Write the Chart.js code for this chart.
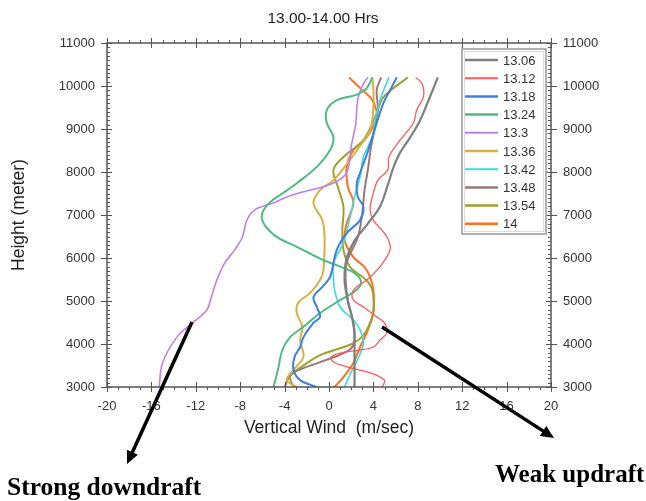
<!DOCTYPE html>
<html>
<head>
<meta charset="utf-8">
<script src="https://cdn.jsdelivr.net/npm/chart.js"></script>
<style>
  html, body { margin: 0; padding: 0; background: #fff; }
  #wrap { position: relative; width: 646px; height: 501px; }
  .note { position: absolute; font-family: "Liberation Serif", "DejaVu Serif", serif; font-weight: bold; font-size: 25.5px; line-height: 26px; color: #000; white-space: nowrap; }
</style>
</head>
<body>
<div id="wrap">
  <canvas id="chart" width="646" height="501"></canvas>
  <div class="note" style="left:7px; top:474px;">Strong downdraft</div>
  <div class="note" style="left:495px; top:461px; font-size:25px;">Weak updraft</div>
</div>
<script>
// legend labels (time of each profile)
const times = ['13.06', '13.12', '13.18', '13.24', '13.3', '13.36', '13.42', '13.48', '13.54', '14'];
const colors = ['#7f7f7f', '#ff5a5a', '#3b7fe6', '#4dbb80', '#bd80f0', '#d9b040', '#3cdcdc', '#9a7878', '#a0a030', '#ff7020'];
const widths = [2.2, 1.3, 2, 2, 1.6, 2, 1.6, 2, 2, 2];

// axis ticks
const xTicks = [-20, -16, -12, -8, -4, 0, 4, 8, 12, 16, 20];
const yTicks = [3000, 4000, 5000, 6000, 7000, 8000, 9000, 10000, 11000];

// height (m) and vertical wind (m/sec)
const h1306 = [3000, 3500, 4000, 4300, 4600, 5000, 5500, 6000, 6400, 6800, 7200, 7700, 8100, 8450, 8800, 9200, 9750, 10200];
const w1306 = [2.3, 2.3, 2.3, 2.3, 2.1, 1.7, 1.4, 1.6, 2.3, 3.5, 4.6, 5.3, 5.8, 6.4, 7.3, 8.2, 9.1, 9.8];

const h1312 = [3000, 3160, 3330, 3470, 3580, 3700, 3790, 3860, 3930, 4090, 4260, 4490, 4630, 4860, 5020, 5190, 5330, 5490, 5800, 6200, 6500, 6880, 7120, 7420, 7810, 8050, 8350, 8740, 9140, 9440, 9740, 10050, 10200];
const w1312 = [4.8, 5.0, 3.7, 1.6, 0.4, 0.2, 1.0, 2.8, 4.0, 4.6, 5.2, 5.0, 4.3, 3.1, 2.2, 2.1, 2.5, 3.4, 4.6, 5.5, 5.2, 4.0, 3.7, 3.9, 4.4, 5.3, 5.4, 6.4, 7.6, 7.9, 8.5, 8.4, 7.8];

const h1318 = [3000, 3160, 3400, 3700, 3930, 4160, 4490, 4630, 4860, 5090, 5330, 5560, 6190, 6580, 6880, 7190, 7420, 7740, 7980, 8400, 8810, 9600, 9950, 10200];
const w1318 = [-1.1, -2.6, -3.2, -3.1, -2.6, -2.3, -1.4, -0.8, -1.1, -1.4, -0.6, 0.1, 0.7, 1.6, 2.8, 3.1, 2.6, 2.5, 2.8, 3.4, 3.9, 4.9, 5.6, 6.1];

const h1324 = [3000, 3400, 3860, 4160, 4400, 4720, 5020, 5260, 5450, 5650, 5770, 5950, 6260, 6490, 6810, 7050, 7300, 7500, 7740, 8120, 8510, 8810, 9140, 9440, 9670, 9800, 9950, 10200];
const w1324 = [-5.0, -4.6, -4.2, -3.5, -2.3, -0.8, 1.0, 2.5, 2.9, 2.3, 1.3, -0.5, -2.9, -4.7, -5.9, -6.0, -5.3, -4.2, -2.9, -1.1, 0.1, 0.4, -0.2, -0.2, 0.7, 2.5, 3.4, 3.9];

const h1330 = [3000, 3560, 4160, 4490, 4790, 5090, 5490, 5880, 6190, 6490, 6880, 7120, 7280, 7420, 7520, 7720, 7950, 8300, 8600, 9100, 9700, 10050, 10200];
const w1330 = [-15.3, -15.0, -13.7, -12.3, -11.0, -10.6, -10.1, -9.4, -8.5, -7.8, -7.4, -6.7, -5.0, -3.8, -2.6, 0.2, 1.5, 1.9, 2.0, 2.4, 2.6, 3.1, 3.5];

const h1336 = [3000, 3160, 3400, 3700, 4090, 4400, 4720, 4950, 5190, 5490, 5720, 6490, 6880, 7280, 7580, 7810, 8050, 8500, 8980, 9510, 9900, 10200];
const w1336 = [-2.9, -3.8, -3.2, -2.3, -2.6, -2.4, -2.9, -2.8, -1.7, -0.8, -0.5, -0.4, -0.6, -1.4, -0.8, 0.4, 1.2, 2.5, 3.7, 4.0, 4.0, 3.9];

const h1342 = [3000, 3350, 3650, 4020, 4330, 4560, 4860, 5260, 5560, 5880, 6350, 6950, 7420, 7880, 8350, 8810, 9140, 9670, 9950, 10200];
const w1342 = [1.4, 2.0, 2.6, 3.1, 2.8, 2.2, 1.0, 0.5, 0.4, 0.4, 1.3, 1.9, 2.3, 2.8, 3.1, 3.9, 4.1, 4.6, 5.0, 5.4];

const h1348 = [3000, 3300, 3580, 3750, 3900, 4100, 4600, 5000, 5500, 5900, 6490, 7050, 7580, 8050, 8600, 9440, 9910, 10200];
const w1348 = [-4.0, -3.4, -0.8, 1.0, 2.0, 2.3, 2.1, 1.7, 1.5, 1.6, 2.6, 3.0, 3.2, 3.5, 3.8, 4.4, 4.3, 4.7];

const h1354 = [3000, 3250, 3500, 3740, 3900, 4020, 4200, 4490, 4790, 5260, 5500, 5790, 6190, 6650, 7190, 7650, 8050, 8350, 8740, 9370, 9740, 10200];
const w1354 = [-3.2, -3.5, -2.3, -0.8, 1.0, 2.2, 3.1, 3.7, 4.0, 3.9, 3.3, 1.9, 1.3, 1.2, 1.3, 0.8, 0.4, 1.3, 3.1, 4.3, 4.9, 7.1];

const h1400 = [3000, 3230, 3560, 3930, 4260, 4720, 5260, 5560, 5790, 6020, 6420, 6810, 7280, 7650, 8120, 8510, 8810, 9280, 9670, 9950, 10200];
const w1400 = [0.5, 1.3, 2.2, 2.8, 3.4, 4.0, 4.0, 3.7, 3.2, 2.2, 1.4, 1.6, 2.2, 1.7, 1.6, 2.2, 3.4, 4.3, 3.9, 2.8, 1.8];

const profiles = [[h1306, w1306], [h1312, w1312], [h1318, w1318], [h1324, w1324], [h1330, w1330],
                  [h1336, w1336], [h1342, w1342], [h1348, w1348], [h1354, w1354], [h1400, w1400]];

const datasets = profiles.map(([h, w], i) => ({
  label: times[i],
  data: h.map((hv, j) => ({ x: w[j], y: hv })),
  borderColor: colors[i],
  backgroundColor: colors[i],
  borderWidth: widths[i],
  showLine: true,
  pointRadius: 0,
  tension: 0.35,
  fill: false
}));

// frame, minor ticks, legend box and the two arrows
const framePlugin = {
  id: 'frame',
  afterDraw(chart) {
    const { ctx, chartArea: a, scales } = chart;
    const xs = scales.x, ys = scales.y;
    ctx.save();
    ctx.strokeStyle = '#555';
    ctx.lineWidth = 1.5;
    ctx.strokeRect(a.left, a.top, a.right - a.left, a.bottom - a.top);

    ctx.lineWidth = 1;
    ctx.beginPath();
    for (let v = -20; v <= 20; v += 1) {
      const px = Math.round(xs.getPixelForValue(v)) + 0.5;
      const major = v % 4 === 0;
      const len = major ? 5 : 3;
      ctx.moveTo(px, a.bottom + len); ctx.lineTo(px, major ? a.bottom - 5 : a.bottom);
      ctx.moveTo(px, a.top - len); ctx.lineTo(px, major ? a.top + 5 : a.top);
    }
    for (let v = 3000; v <= 11000; v += 100) {
      const py = Math.round(ys.getPixelForValue(v)) + 0.5;
      const major = v % 1000 === 0;
      ctx.moveTo(major ? a.left - 6 : a.left, py); ctx.lineTo(a.left + (major ? 5 : 3), py);
      ctx.moveTo(major ? a.right + 6 : a.right, py); ctx.lineTo(a.right - (major ? 5 : 3), py);
    }
    ctx.stroke();

    // legend
    const lx = 462, ly = 49, lw = 84, lh = 185, row = 18.2;
    ctx.fillStyle = '#fff';
    ctx.fillRect(lx, ly, lw, lh);
    ctx.strokeStyle = '#999';
    ctx.lineWidth = 1.5;
    ctx.strokeRect(lx, ly, lw, lh);
    ctx.strokeStyle = '#ddd';
    ctx.lineWidth = 1;
    ctx.strokeRect(lx + 2.5, ly + 2.5, lw - 5, lh - 5);
    ctx.font = '13px "Liberation Sans", Arial, sans-serif';
    ctx.textBaseline = 'middle';
    chart.data.datasets.forEach((ds, i) => {
      const y = ly + 11 + i * row;
      ctx.strokeStyle = ds.borderColor;
      ctx.lineWidth = Math.max(2, ds.borderWidth + 0.5);
      ctx.beginPath(); ctx.moveTo(lx + 3, y); ctx.lineTo(lx + 36, y); ctx.stroke();
      ctx.fillStyle = '#333';
      ctx.fillText(ds.label, lx + 41, y + 1);
    });

    // arrows
    const arrow = (x1, y1, x2, y2) => {
      const ang = Math.atan2(y2 - y1, x2 - x1), hl = 13, hw = 6;
      ctx.strokeStyle = '#000';
      ctx.fillStyle = '#000';
      ctx.lineWidth = 3.5;
      ctx.beginPath();
      ctx.moveTo(x1, y1);
      ctx.lineTo(x2 - Math.cos(ang) * hl * 0.8, y2 - Math.sin(ang) * hl * 0.8);
      ctx.stroke();
      ctx.beginPath();
      ctx.moveTo(x2, y2);
      ctx.lineTo(x2 - Math.cos(ang) * hl - Math.sin(ang) * hw, y2 - Math.sin(ang) * hl + Math.cos(ang) * hw);
      ctx.lineTo(x2 - Math.cos(ang) * hl + Math.sin(ang) * hw, y2 - Math.sin(ang) * hl - Math.cos(ang) * hw);
      ctx.closePath();
      ctx.fill();
    };
    arrow(192, 322, 127, 464);
    arrow(382, 327, 554, 438);
    ctx.restore();
  }
};

const tickFont = { family: '"Liberation Sans", Arial, sans-serif', size: 13 };
const plain = v => String(v);

new Chart(document.getElementById('chart'), {
  type: 'scatter',
  data: { datasets },
  options: {
    responsive: false,
    animation: false,
    devicePixelRatio: 1,
    layout: { padding: 0 },
    plugins: {
      legend: { display: false },
      tooltip: { enabled: false },
      title: {
        display: true,
        text: '13.00-14.00 Hrs',
        color: '#222',
        font: { family: '"Liberation Sans", Arial, sans-serif', size: 15.5, weight: 'normal' },
        padding: { top: 9, bottom: 15.4 }
      }
    },
    scales: {
      x: {
        type: 'linear', position: 'bottom', min: -20, max: 20,
        afterBuildTicks: s => { s.ticks = xTicks.map(v => ({ value: v })); },
        afterFit: s => { s.height = 114; },
        grid: { display: false, drawTicks: false },
        border: { display: false },
        ticks: { color: '#333', font: tickFont, padding: 12, callback: plain },
        title: {
          display: true, text: 'Vertical Wind  (m/sec)', color: '#222',
          font: { family: '"Liberation Sans", Arial, sans-serif', size: 17.5 },
          padding: { top: 0, bottom: 62 }
        }
      },
      y: {
        type: 'linear', position: 'left', min: 3000, max: 11000,
        afterBuildTicks: s => { s.ticks = yTicks.map(v => ({ value: v })); },
        afterFit: s => { s.width = 107; },
        grid: { display: false, drawTicks: false },
        border: { display: false },
        ticks: { color: '#333', font: tickFont, padding: 12, callback: plain },
        title: {
          display: true, text: 'Height (meter)', color: '#222',
          font: { family: '"Liberation Sans", Arial, sans-serif', size: 17.5 },
          padding: { top: 9, bottom: 0 }
        }
      },
      y2: {
        type: 'linear', position: 'right', min: 3000, max: 11000,
        afterBuildTicks: s => { s.ticks = yTicks.map(v => ({ value: v })); },
        afterFit: s => { s.width = 95; },
        grid: { display: false, drawTicks: false },
        border: { display: false },
        ticks: { color: '#333', font: tickFont, padding: 12, callback: plain }
      }
    }
  },
  plugins: [framePlugin]
});
</script>
</body>
</html>
